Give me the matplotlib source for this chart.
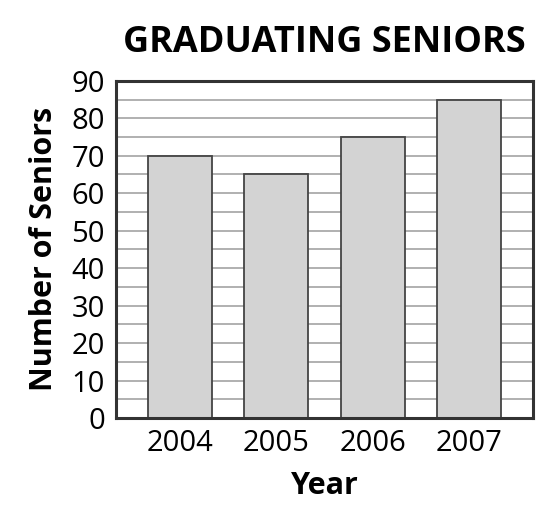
import matplotlib.pyplot as plt

years = ["2004", "2005", "2006", "2007"]
seniors = [70, 65, 75, 85]

plt.rcParams["font.family"] = ["Open Sans", "DejaVu Sans"]

fig = plt.figure(figsize=(5.5, 5.18), dpi=100)
ax = fig.add_axes([0.211, 0.193, 0.758, 0.651])

ax.set_axisbelow(True)
ax.bar(range(len(years)), seniors, width=0.66, color="#d3d3d3",
       edgecolor="#444444", linewidth=1.3)

ax.set_ylim(0, 90)
ax.set_yticks(range(0, 91, 10))
ax.set_yticks(range(5, 90, 10), minor=True)
ax.set_xlim(-0.66, 3.66)
ax.set_xticks(range(len(years)))
ax.set_xticklabels(years)
ax.grid(axis="y", which="both", color="#aaaaaa", linewidth=1.3)
ax.tick_params(which="both", length=0, labelsize=21, pad=8)

for s in ax.spines.values():
    s.set_linewidth(2.2)
    s.set_color("#333333")

ax.set_title("GRADUATING SENIORS", fontsize=26, fontweight="bold", pad=21)
ax.set_xlabel("Year", fontsize=22, fontweight="bold", labelpad=9)
ax.set_ylabel("Number of Seniors", fontsize=22, fontweight="bold", labelpad=9)

fig.savefig("out.png", dpi=100)
